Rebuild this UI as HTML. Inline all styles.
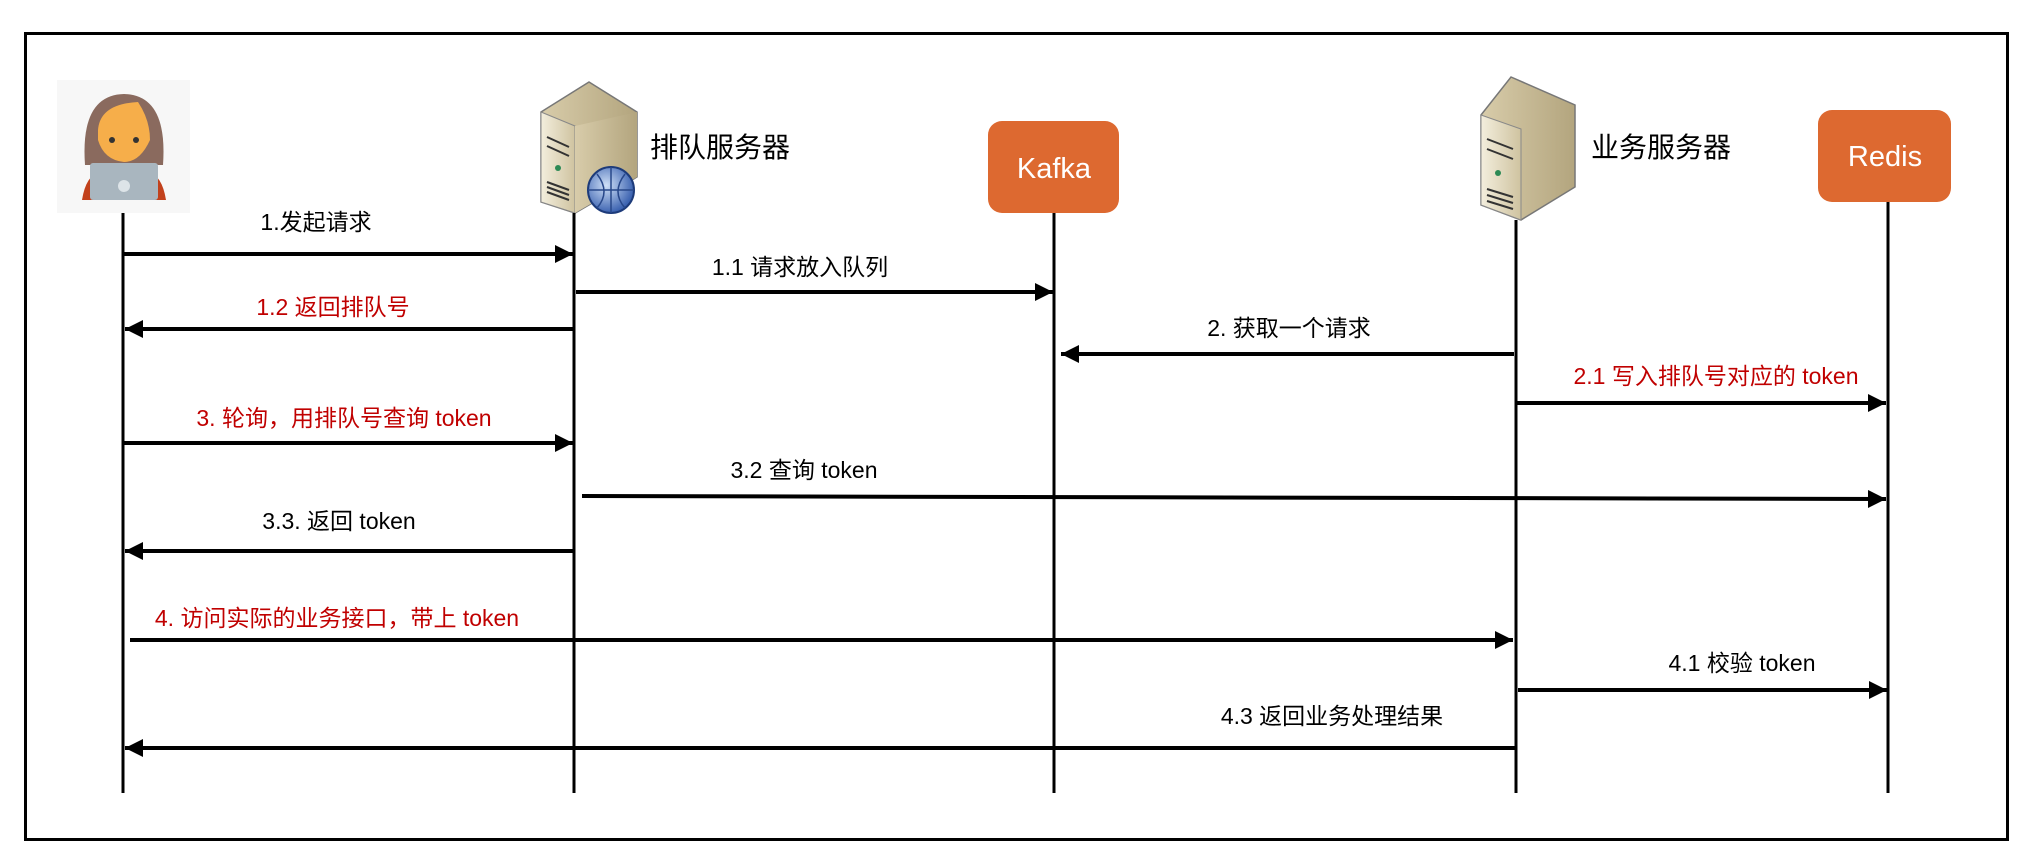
<!DOCTYPE html>
<html><head><meta charset="utf-8"><style>
body{margin:0;background:#fff;width:2034px;height:861px;overflow:hidden}
svg text{font-family:"Liberation Sans","Noto Sans CJK SC",sans-serif}
</style></head><body>
<svg width="2034" height="861" viewBox="0 0 2034 861" xmlns="http://www.w3.org/2000/svg">
<defs>
<marker id="a" viewBox="0 0 18 18" refX="18" refY="9" markerWidth="18" markerHeight="18" markerUnits="userSpaceOnUse" orient="auto"><path d="M0,0 L18,9 L0,18 z" fill="#000"/></marker>
<linearGradient id="sv" x1="0" x2="1"><stop offset="0" stop-color="#f3eedd"/><stop offset="1" stop-color="#cfc3a0"/></linearGradient>
<linearGradient id="sv2" x1="0" x2="1"><stop offset="0" stop-color="#d8ccaa"/><stop offset="1" stop-color="#b3a57e"/></linearGradient>
<radialGradient id="gl" cx="0.4" cy="0.4" r="0.6"><stop offset="0" stop-color="#cfe0f7"/><stop offset="1" stop-color="#3b62b0"/></radialGradient>
</defs>
<rect x="25.5" y="33.5" width="1982" height="806" fill="none" stroke="#000" stroke-width="3"/>

<!-- person -->
<rect x="57" y="80" width="133" height="133" fill="#f7f7f7"/>
<path d="M85,165 Q80,95 124,94 Q168,95 163,165 Z" fill="#8a6a5e"/>
<path d="M98,130 Q100,104 138,102 Q150,120 150,140 Q140,162 124,162 Q104,160 98,140 Z" fill="#f6ae4a"/>
<path d="M82,200 Q86,175 100,172 L148,172 Q162,175 166,200 Z" fill="#c2411c"/>
<rect x="90" y="163" width="68" height="37" rx="3" fill="#a9b6bf"/>
<circle cx="124" cy="186" r="6" fill="#dde4e8"/>
<circle cx="112" cy="140" r="3" fill="#333"/><circle cx="136" cy="140" r="3" fill="#333"/>

<!-- queue server -->
<g transform="translate(541,82)">
<path d="M0,30 L48,0 L96,30 L96,95 L34,131 L0,120 Z" fill="url(#sv2)" stroke="#777" stroke-width="1.5"/>
<path d="M0,30 L34,44 L34,131 L0,120 Z" fill="url(#sv)" stroke="#888"/>
<path d="M34,44 L96,30 L96,95 L34,131 Z" fill="url(#sv2)"/>
<path d="M6,55 L28,65 M6,64 L28,74 M6,100 L28,108 M6,105 L28,113 M6,110 L28,118" stroke="#333" stroke-width="2"/>
<circle cx="17" cy="86" r="3" fill="#2c8a55"/>
<circle cx="70" cy="108" r="23" fill="url(#gl)" stroke="#1d3b7a" stroke-width="2"/>
<path d="M47,108 H93 M70,85 V131 M56,92 Q70,110 56,126 M84,92 Q70,110 84,126" stroke="#28488a" fill="none" stroke-width="1.5"/>
</g>
<text x="650" y="157" font-size="28">排队服务器</text>

<!-- business server -->
<g transform="translate(1481,77)">
<path d="M0,38 L30,0 L94,28 L94,110 L40,143 L0,128 Z" fill="url(#sv2)" stroke="#777" stroke-width="1.5"/>
<path d="M0,38 L40,52 L40,143 L0,128 Z" fill="url(#sv)" stroke="#888"/>
<path d="M6,62 L32,72 M6,72 L32,82 M6,112 L32,120 M6,118 L32,126 M6,124 L32,132" stroke="#333" stroke-width="2"/>
<circle cx="17" cy="96" r="3" fill="#2c8a55"/>
</g>
<text x="1591" y="157" font-size="28">业务服务器</text>

<!-- Kafka / Redis -->
<rect x="988" y="121" width="131" height="92" rx="14" fill="#dd6930"/>
<text x="1054" y="178" font-size="29" fill="#fff" text-anchor="middle">Kafka</text>
<rect x="1818" y="110" width="133" height="92" rx="14" fill="#dd6930"/>
<text x="1885" y="166" font-size="29" fill="#fff" text-anchor="middle">Redis</text>

<!-- lifelines -->
<g stroke="#000" stroke-width="3">
<line x1="123" y1="213" x2="123" y2="793"/>
<line x1="574" y1="213" x2="574" y2="793"/>
<line x1="1054" y1="213" x2="1054" y2="793"/>
<line x1="1516" y1="220" x2="1516" y2="793"/>
<line x1="1888" y1="202" x2="1888" y2="793"/>
</g>

<!-- arrows -->
<g stroke="#000" stroke-width="4" marker-end="url(#a)">
<line x1="123" y1="254" x2="573" y2="254"/>
<line x1="576" y1="292" x2="1053" y2="292"/>
<line x1="573" y1="329" x2="125" y2="329"/>
<line x1="1514" y1="354" x2="1061" y2="354"/>
<line x1="1517" y1="403" x2="1886" y2="403"/>
<line x1="123" y1="443" x2="573" y2="443"/>
<line x1="582" y1="496" x2="1886" y2="499"/>
<line x1="573" y1="551" x2="125" y2="551"/>
<line x1="130" y1="640" x2="1513" y2="640"/>
<line x1="1518" y1="690" x2="1887" y2="690"/>
<line x1="1516" y1="748" x2="125" y2="748"/>
</g>

<!-- labels -->
<g font-size="23" text-anchor="middle">
<text x="316" y="230">1.发起请求</text>
<text x="800" y="275">1.1 请求放入队列</text>
<text x="333" y="315" fill="#c00000">1.2 返回排队号</text>
<text x="1289" y="336">2. 获取一个请求</text>
<text x="1716" y="384" fill="#c00000">2.1 写入排队号对应的 token</text>
<text x="344" y="426" fill="#c00000">3. 轮询，用排队号查询 token</text>
<text x="804" y="478">3.2 查询 token</text>
<text x="339" y="529">3.3. 返回 token</text>
<text x="337" y="626" fill="#c00000">4. 访问实际的业务接口，带上 token</text>
<text x="1742" y="671">4.1 校验 token</text>
<text x="1332" y="724">4.3 返回业务处理结果</text>
</g>
</svg>
</body></html>
